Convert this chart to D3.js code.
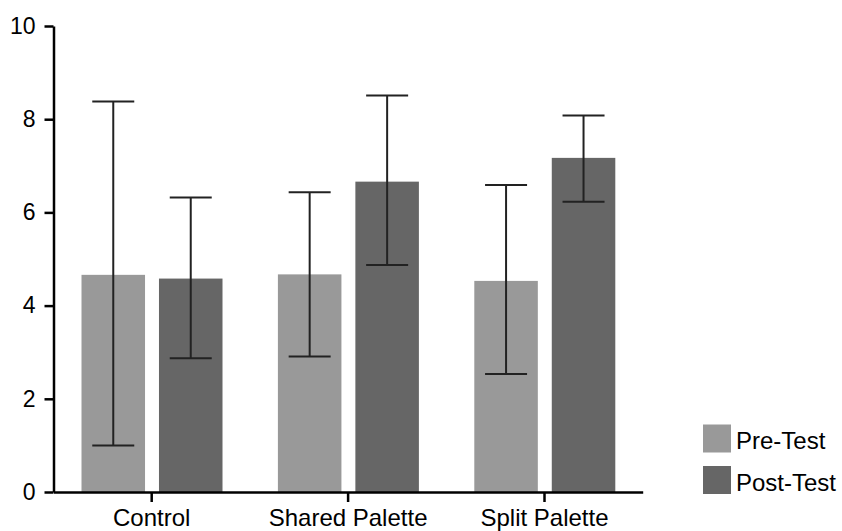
<!DOCTYPE html>
<html>
<head>
<meta charset="utf-8">
<script src="https://cdn.jsdelivr.net/npm/d3@7"></script>
<style>
  html, body { margin: 0; padding: 0; background: #fff; }
  svg { display: block; font-family: "Liberation Sans", Arial, sans-serif; }
</style>
</head>
<body>
<svg id="chart" width="842" height="531"></svg>
<script>
const categories = ["Control", "Shared Palette", "Split Palette"];
const seriesNames = ["Pre-Test", "Post-Test"];
const preMean = [4.66, 4.67, 4.53];
const preUpper = [8.38, 6.43, 6.59];
const preLower = [1.00, 2.91, 2.53];
const postMean = [4.58, 6.66, 7.17];
const postUpper = [6.32, 8.51, 8.08];
const postLower = [2.87, 4.87, 6.23];
const yTicks = [0, 2, 4, 6, 8, 10];
const colors = ["#999999", "#666666"];

const svg = d3.select("#chart");
const y = d3.scaleLinear().domain([0, 10]).range([492, 26]);
const x0 = d3.scaleBand().domain(categories).range([53.5, 642.7]).padding(0);
const x1 = d3.scaleBand().domain(seriesNames).range([28, 169]).paddingInner(0.18).paddingOuter(0);

const data = [];
categories.forEach((c, i) => {
  data.push({cat: c, s: seriesNames[0], v: preMean[i], hi: preUpper[i], lo: preLower[i], col: colors[0]});
  data.push({cat: c, s: seriesNames[1], v: postMean[i], hi: postUpper[i], lo: postLower[i], col: colors[1]});
});

const bx = d => x0(d.cat) + x1(d.s);

svg.append("g").selectAll("rect").data(data).join("rect")
  .attr("x", bx)
  .attr("y", d => y(d.v))
  .attr("width", x1.bandwidth())
  .attr("height", d => y(0) - y(d.v))
  .attr("fill", d => d.col);

// error bars
const eg = svg.append("g").attr("stroke", "#222").attr("stroke-width", 2);
const capW = 42;
data.forEach(d => {
  const cx = bx(d) + x1.bandwidth() / 2;
  eg.append("line").attr("x1", cx).attr("x2", cx).attr("y1", y(d.hi)).attr("y2", y(d.lo));
  eg.append("line").attr("x1", cx - capW / 2).attr("x2", cx + capW / 2).attr("y1", y(d.hi)).attr("y2", y(d.hi));
  eg.append("line").attr("x1", cx - capW / 2).attr("x2", cx + capW / 2).attr("y1", y(d.lo)).attr("y2", y(d.lo));
});

// y axis
const yAxis = svg.append("g").attr("transform", "translate(53.5,0)")
  .call(d3.axisLeft(y).tickValues(yTicks).tickSize(9).tickSizeOuter(0).tickPadding(9));
yAxis.select(".domain").attr("stroke", "#000").attr("stroke-width", 2.5);
yAxis.selectAll(".tick line").attr("stroke", "#000").attr("stroke-width", 2.5);
yAxis.selectAll("text").attr("font-size", 23).attr("fill", "#000")
  .attr("font-family", "Liberation Sans, Arial, sans-serif");

// x axis
const xAxis = svg.append("g").attr("transform", "translate(0,492)")
  .call(d3.axisBottom(x0).tickSize(10).tickSizeOuter(0).tickPadding(10));
xAxis.select(".domain").attr("stroke", "#000").attr("stroke-width", 2.5);
xAxis.selectAll(".tick line").attr("stroke", "#000").attr("stroke-width", 2.5);
xAxis.selectAll("text").attr("font-size", 24).attr("fill", "#000")
  .attr("dy", null).attr("y", 34)
  .attr("font-family", "Liberation Sans, Arial, sans-serif");

// legend
const legend = svg.append("g");
seriesNames.forEach((s, i) => {
  const gy = 424.5 + i * 41.5;
  legend.append("rect").attr("x", 703).attr("y", gy).attr("width", 28).attr("height", 28).attr("fill", colors[i]);
  legend.append("text").attr("x", 736).attr("y", gy + 24.5).attr("font-size", 24).attr("fill", "#000").text(s);
});
</script>
</body>
</html>
